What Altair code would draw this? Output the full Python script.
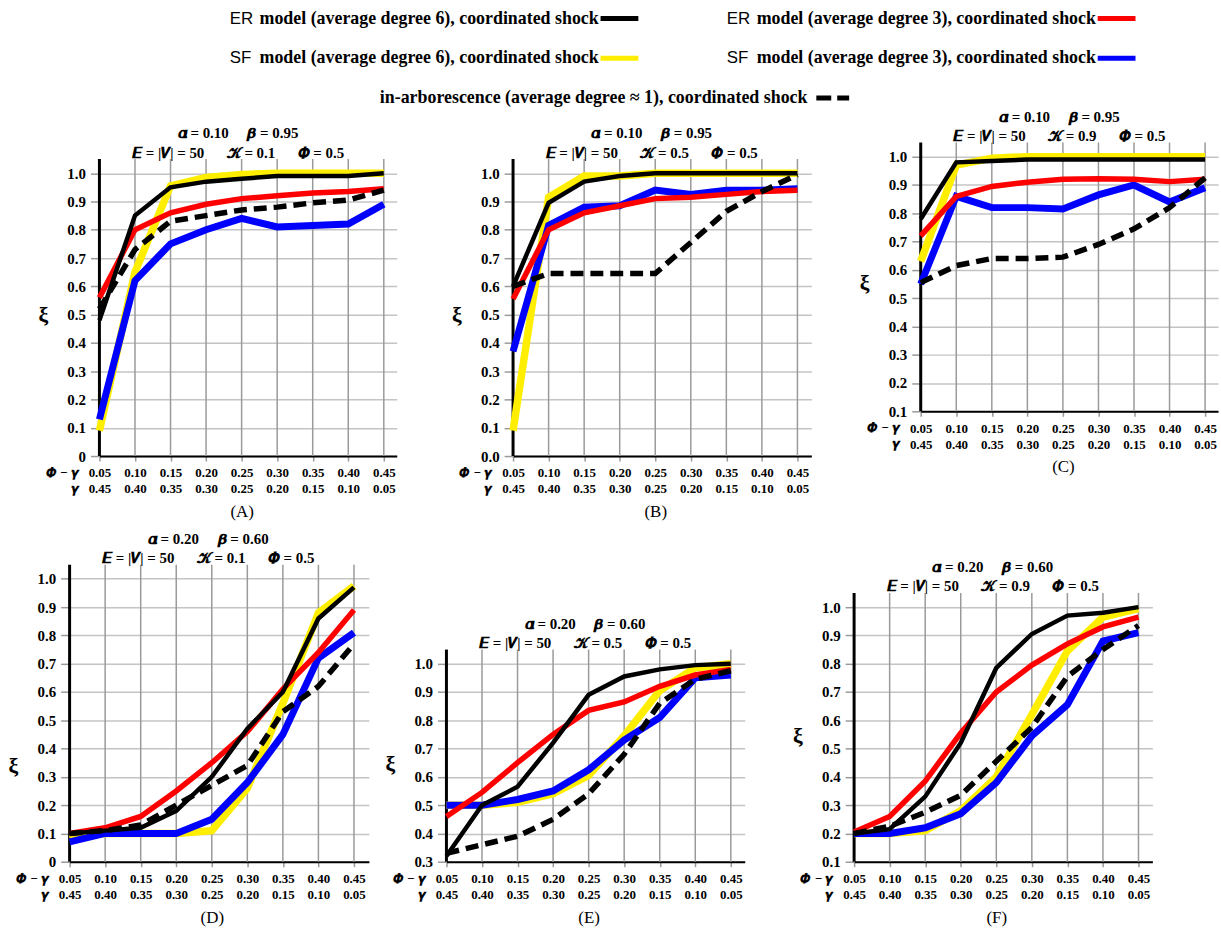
import json
import altair as alt
import pandas as pd

# ---------------- data ----------------
x_vals = [0.05, 0.10, 0.15, 0.20, 0.25, 0.30, 0.35, 0.40, 0.45]
phi_minus_gamma_labels = ["0.05", "0.10", "0.15", "0.20", "0.25", "0.30", "0.35", "0.40", "0.45"]
gamma_labels = ["0.45", "0.40", "0.35", "0.30", "0.25", "0.20", "0.15", "0.10", "0.05"]
y_tick_values = [0.0, 0.1, 0.2, 0.3, 0.4, 0.5, 0.6, 0.7, 0.8, 0.9, 1.0]

series_names = [
    "ER model (average degree 6), coordinated shock",
    "ER model (average degree 3), coordinated shock",
    "SF model (average degree 6), coordinated shock",
    "SF model (average degree 3), coordinated shock",
    "in-arborescence (average degree \u2248 1), coordinated shock",
]
series_colors = ["#000000", "#ff0000", "#ffee00", "#0000ff", "#000000"]

A_er6 = [0.48, 0.85, 0.95, 0.97, 0.98, 0.99, 0.99, 0.99, 1.00]
A_er3 = [0.56, 0.80, 0.86, 0.89, 0.91, 0.92, 0.93, 0.935, 0.945]
A_sf6 = [0.09, 0.65, 0.955, 0.985, 0.995, 1.00, 1.00, 1.00, 1.00]
A_sf3 = [0.13, 0.62, 0.75, 0.80, 0.84, 0.81, 0.815, 0.82, 0.89]
A_arb = [0.52, 0.73, 0.83, 0.85, 0.87, 0.88, 0.895, 0.905, 0.94]

B_er6 = [0.60, 0.895, 0.97, 0.99, 1.00, 1.00, 1.00, 1.00, 1.00]
B_er3 = [0.555, 0.80, 0.86, 0.885, 0.91, 0.915, 0.925, 0.935, 0.94]
B_sf6 = [0.09, 0.915, 0.99, 0.99, 1.00, 1.00, 1.00, 1.00, 1.00]
B_sf3 = [0.37, 0.815, 0.88, 0.885, 0.94, 0.925, 0.94, 0.94, 0.945]
B_arb = [0.60, 0.645, 0.645, 0.645, 0.645, 0.755, 0.865, 0.935, 0.995]

C_er6 = [0.78, 0.98, 0.985, 0.99, 0.99, 0.99, 0.99, 0.99, 0.99]
C_er3 = [0.72, 0.86, 0.895, 0.91, 0.92, 0.922, 0.92, 0.912, 0.92]
C_sf6 = [0.63, 0.97, 0.995, 1.00, 1.00, 1.00, 1.00, 1.00, 1.00]
C_sf3 = [0.55, 0.86, 0.82, 0.82, 0.815, 0.865, 0.90, 0.84, 0.89]
C_arb = [0.555, 0.615, 0.64, 0.64, 0.645, 0.69, 0.745, 0.82, 0.925]

D_er6 = [0.10, 0.11, 0.12, 0.18, 0.30, 0.47, 0.60, 0.86, 0.97]
D_er3 = [0.10, 0.12, 0.16, 0.25, 0.35, 0.46, 0.61, 0.74, 0.89]
D_sf6 = [0.08, 0.10, 0.10, 0.10, 0.11, 0.26, 0.56, 0.88, 0.975]
D_sf3 = [0.07, 0.10, 0.10, 0.10, 0.15, 0.28, 0.45, 0.72, 0.81]
D_arb = [0.10, 0.11, 0.13, 0.20, 0.27, 0.34, 0.53, 0.62, 0.77]

E_er6 = [0.32, 0.50, 0.565, 0.72, 0.89, 0.955, 0.98, 0.995, 1.00]
E_er3 = [0.46, 0.545, 0.65, 0.75, 0.835, 0.865, 0.92, 0.96, 0.98]
E_sf6 = [0.50, 0.50, 0.51, 0.54, 0.605, 0.745, 0.905, 0.985, 1.00]
E_sf3 = [0.50, 0.50, 0.52, 0.55, 0.625, 0.73, 0.81, 0.95, 0.96]
E_arb = [0.33, 0.36, 0.39, 0.45, 0.54, 0.68, 0.86, 0.945, 0.975]

F_er6 = [0.20, 0.215, 0.33, 0.52, 0.785, 0.905, 0.97, 0.98, 1.00]
F_er3 = [0.205, 0.26, 0.385, 0.555, 0.70, 0.795, 0.87, 0.93, 0.965]
F_sf6 = [0.20, 0.20, 0.21, 0.28, 0.40, 0.62, 0.845, 0.965, 0.995]
F_sf3 = [0.20, 0.20, 0.22, 0.27, 0.38, 0.545, 0.655, 0.88, 0.91]
F_arb = [0.20, 0.225, 0.275, 0.335, 0.455, 0.575, 0.755, 0.85, 0.935]

panel_alpha = {"A": "0.10", "B": "0.10", "C": "0.10", "D": "0.20", "E": "0.20", "F": "0.20"}
panel_beta = {"A": "0.95", "B": "0.95", "C": "0.95", "D": "0.60", "E": "0.60", "F": "0.60"}
panel_k = {"A": "0.1", "B": "0.5", "C": "0.9", "D": "0.1", "E": "0.5", "F": "0.9"}
panel_ymin = {"A": 0.0, "B": 0.0, "C": 0.1, "D": 0.0, "E": 0.3, "F": 0.1}
panel_zero_label = {"A": "0", "B": "0.0", "C": "0.0", "D": "0", "E": "0.0", "F": "0.0"}
panel_series = {
    "A": [A_er6, A_er3, A_sf6, A_sf3, A_arb],
    "B": [B_er6, B_er3, B_sf6, B_sf3, B_arb],
    "C": [C_er6, C_er3, C_sf6, C_sf3, C_arb],
    "D": [D_er6, D_er3, D_sf6, D_sf3, D_arb],
    "E": [E_er6, E_er3, E_sf6, E_sf3, E_arb],
    "F": [F_er6, F_er3, F_sf6, F_sf3, F_arb],
}

# ---------------- layout / style ----------------
SERIF = "Liberation Serif"
SANS = "Liberation Sans"
K_Y = 284.5   # px per unit of xi
K_X = 715.0   # px per unit of Phi-gamma
ROW1_TOP = 109
ROW2_TOP = 528
panel_bottom = {"A": 457, "B": 457, "C": 412, "D": 864, "E": 864, "F": 864}
panel_top = {"A": ROW1_TOP, "B": ROW1_TOP, "C": ROW1_TOP, "D": ROW2_TOP, "E": ROW2_TOP, "F": ROW2_TOP}
panel_width = {"A": 299, "B": 300, "C": 299, "D": 301, "E": 300, "F": 300}
panel_xi_y = {"A": 206, "B": 206, "C": 173, "D": 239, "E": 237, "F": 209}

line_width = [4.5, 5.5, 7.5, 7.0, 5.5]
draw_order = [2, 3, 1, 0, 4]
GRID_V = "#9a9a9a"
GRID_H = "#c4c4c4"
GAP1 = "\u00a0" * 5
GAP2 = "\u00a0" * 6

x_label_expr = json.dumps([[p, g] for p, g in zip(phi_minus_gamma_labels, gamma_labels)]) + "[round(datum.value * 20) - 1]"


def make_panel(key):
    ymin = panel_ymin[key]
    height = panel_bottom[key] - panel_top[key]
    width = panel_width[key]
    ytop = ymin + height / K_Y
    xmax = 0.05 + width / K_X
    xs = alt.Scale(domain=[0.05, xmax], nice=False, zero=False)
    ys = alt.Scale(domain=[ymin, ytop], nice=False, zero=False)
    yticks = [v for v in y_tick_values if v >= ymin - 1e-9]
    zero_lbl = panel_zero_label[key]
    y_expr = "datum.value < 0.001 ? '%s' : format(datum.value, '.1f')" % zero_lbl

    x_axis = alt.Axis(
        values=x_vals, grid=False, domain=True, domainColor="black", domainWidth=2,
        ticks=True, tickColor=GRID_V, tickWidth=1.5, tickSize=5,
        labelExpr=x_label_expr, labelFont=SERIF, labelFontWeight="bold", labelFontSize=13,
        labelLineHeight=16, labelPadding=6, labelBaseline="top", labelAngle=0,
        labelColor="black", labelFlush=False, labelOverlap=False,
        title="(%s)" % key, titleFont=SERIF, titleFontWeight="normal", titleFontSize=17,
        titleColor="black", titleX=(0.25 - 0.05) * K_X, titleY=56,
        titleBaseline="middle", titleAlign="center",
    )
    y_axis = alt.Axis(
        values=yticks, grid=True, gridColor=GRID_H, gridWidth=1.5, domain=False,
        ticks=True, tickColor=GRID_V, tickWidth=1.5, tickSize=9, labelPadding=5,
        labelFont=SERIF, labelFontWeight="bold", labelFontSize=15, labelColor="black",
        labelExpr=y_expr, labelFlush=False, labelOverlap=False,
        title="\u03be", titleAngle=0, titleX=-57, titleY=panel_xi_y[key],
        titleAlign="center", titleBaseline="middle", titleFont=SERIF,
        titleFontSize=22, titleFontWeight="bold", titleColor="black",
    )

    one = pd.DataFrame({"a": [0]})
    layers = []
    layers.append(
        alt.Chart(pd.DataFrame({"x": x_vals[1:]})).mark_rule(color=GRID_V, strokeWidth=1.5).encode(
            x=alt.X("x:Q", scale=xs, axis=x_axis),
            y=alt.YDatum(ymin, scale=ys, axis=y_axis),
            y2=alt.Y2Datum(1.05),
        )
    )
    layers.append(
        alt.Chart(one).mark_rule(color="black", strokeWidth=3).encode(
            x=alt.XDatum(0.05, scale=xs, axis=x_axis),
            y=alt.YDatum(ymin, scale=ys, axis=y_axis),
            y2=alt.Y2Datum(1.05),
        )
    )
    for idx in draw_order:
        df = pd.DataFrame({"x": x_vals, "v": panel_series[key][idx]})
        mk = dict(color=series_colors[idx], strokeWidth=line_width[idx])
        if idx == 4:
            mk["strokeDash"] = [13, 7]
        layers.append(
            alt.Chart(df).mark_line(**mk).encode(
                x=alt.X("x:Q", scale=xs, axis=x_axis),
                y=alt.Y("v:Q", scale=ys, axis=y_axis),
            )
        )
    line1 = "\U0001D736 = %s%s\U0001D737 = %s" % (panel_alpha[key], GAP1, panel_beta[key])
    line2 = "\U0001D46C = |\U0001D47D| = 50%s\U0001D4DA = %s%s\U0001D731 = 0.5" % (GAP2, panel_k[key], GAP2)
    for txt, dy in [(line1, -26), (line2, -6.5)]:
        layers.append(
            alt.Chart(one).mark_text(
                text=txt, dy=dy, font=SERIF, fontWeight="bold", fontSize=15,
                baseline="middle", align="center", color="black",
            ).encode(
                x=alt.XDatum(0.245, scale=xs, axis=x_axis),
                y=alt.YDatum(1.05, scale=ys, axis=y_axis),
            )
        )
    layers.append(
        alt.Chart(one).mark_text(
            text=["\U0001D731 \u2212 \U0001D738", "\U0001D738"], align="right", baseline="top",
            dx=-22, dy=11, lineHeight=16, font=SERIF, fontWeight="bold", fontSize=13, color="black",
        ).encode(
            x=alt.XDatum(0.05, scale=xs, axis=x_axis),
            y=alt.YDatum(ymin, scale=ys, axis=y_axis),
        )
    )
    return alt.layer(*layers).properties(width=width, height=height)


def spacer(w):
    return alt.Chart(pd.DataFrame({"a": [0]})).mark_point(size=0, opacity=0).encode(
        x=alt.value(0), y=alt.value(0)
    ).properties(width=w, height=1)


# ---------------- legend ----------------
legend_prefix = ["ER", "ER", "SF", "SF", ""]
legend_rest = [
    "model (average degree 6), coordinated shock",
    "model (average degree 3), coordinated shock",
    "model (average degree 6), coordinated shock",
    "model (average degree 3), coordinated shock",
    "in-arborescence (average degree \u2248 1), coordinated shock",
]
legend_col = [0, 1, 0, 1, 0.242]
legend_row = [0, 0, 1, 1, 2]
leg_df = pd.DataFrame({
    "series": series_names, "prefix": legend_prefix, "rest": legend_rest,
    "col": legend_col, "row": legend_row,
})
LX = alt.Scale(domain=[-0.46, 1.94], nice=False, zero=False)
LY = alt.Scale(domain=[-0.25, 2.25], nice=False, zero=False, reverse=True)
lx = alt.X("col:Q", scale=LX, axis=None)
ly = alt.Y("row:Q", scale=LY, axis=None)
color_scale = alt.Scale(domain=series_names, range=series_colors)

leg_prefix = alt.Chart(leg_df).mark_text(
    align="left", baseline="middle", font=SANS, fontSize=17, color="black"
).encode(x=lx, y=ly, text="prefix:N")
leg_text = alt.Chart(leg_df).mark_text(
    align="left", baseline="middle", dx=30, font=SERIF, fontWeight="bold", fontSize=18, color="black"
).encode(x=lx, y=ly, text="rest:N")
leg_solid = alt.Chart(leg_df.iloc[:4]).mark_rule(strokeWidth=5, xOffset=373, x2Offset=411).encode(
    x=lx, x2="col:Q", y=ly, color=alt.Color("series:N", scale=color_scale, legend=None)
)
leg_dash = alt.Chart(leg_df.iloc[4:]).mark_rule(
    strokeWidth=5, xOffset=469, x2Offset=502, strokeDash=[15, 6], color="black"
).encode(x=lx, x2="col:Q", y=ly)
legend = alt.layer(leg_prefix, leg_text, leg_solid, leg_dash).properties(width=1200, height=100)

# ---------------- assemble ----------------
pA, pB, pC, pD, pE, pF = [make_panel(k) for k in "ABCDEF"]
row1 = alt.hconcat(spacer(35), alt.hconcat(pA, alt.hconcat(pB, pC, spacing=45), spacing=51), spacing=0)
row2 = alt.hconcat(spacer(5), alt.hconcat(alt.hconcat(pD, pE, spacing=14), pF, spacing=45), spacing=0)

chart = alt.vconcat(legend, alt.vconcat(row1, row2, spacing=6), spacing=0).properties(
    padding={"left": 0, "top": 5, "right": 0, "bottom": 0}, background="white"
).configure_view(stroke="transparent")

chart.save("out.html", embed_options={"renderer": "svg", "actions": False})
